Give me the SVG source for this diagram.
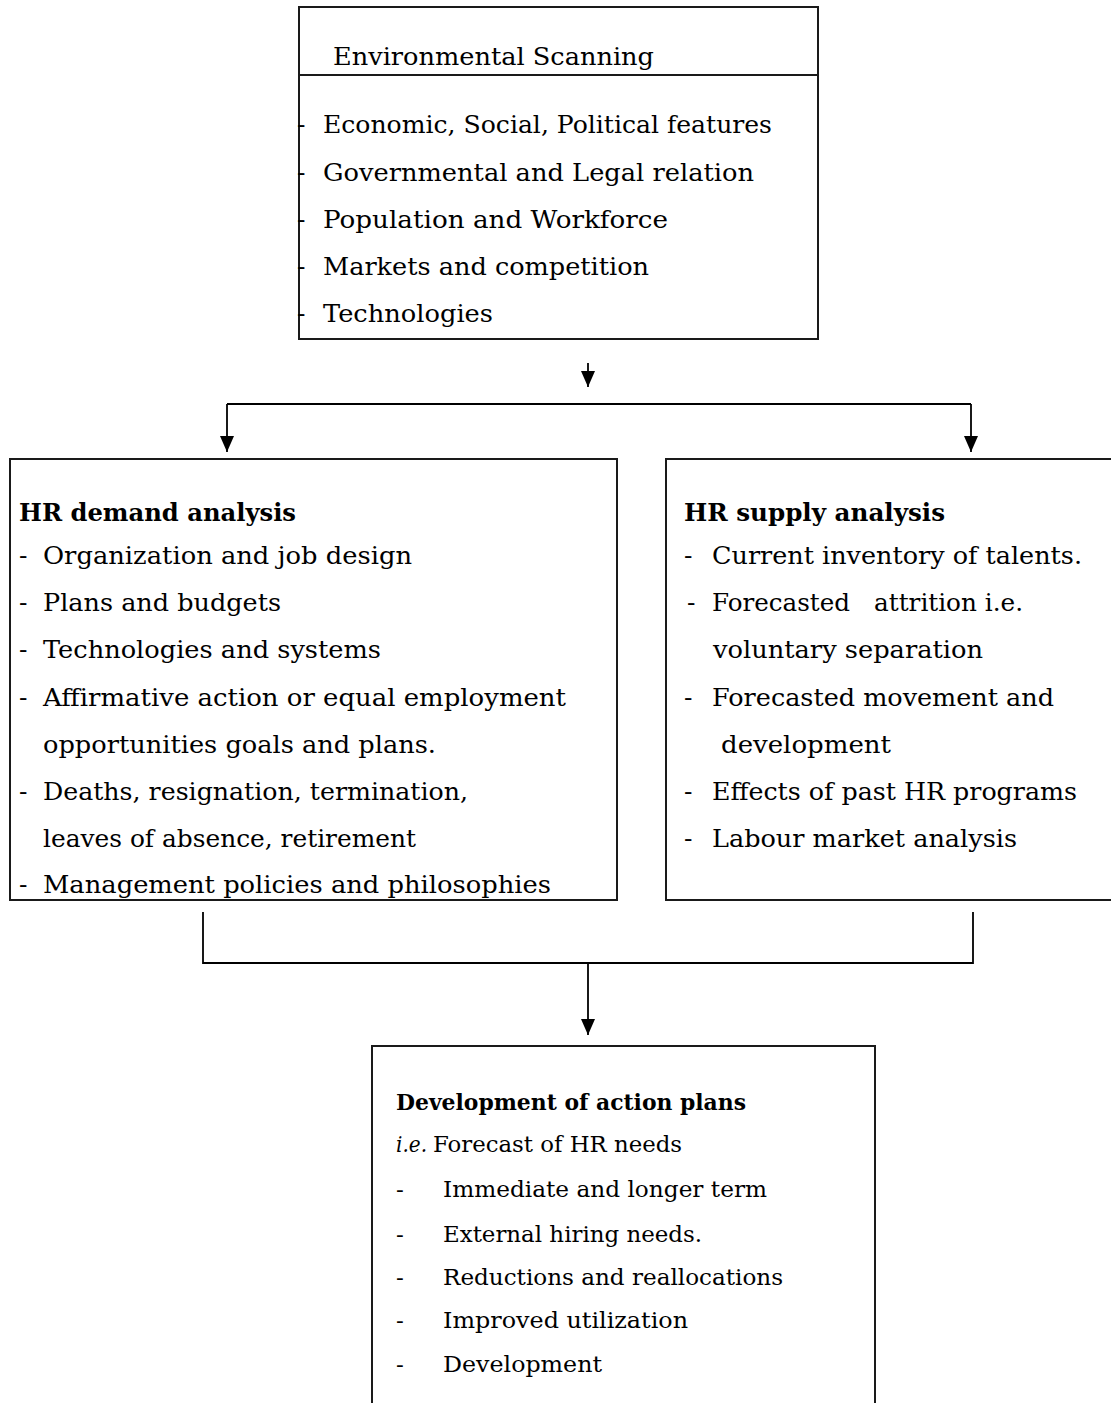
<svg xmlns="http://www.w3.org/2000/svg" width="1111" height="1403" viewBox="0 0 1111 1403">
<style>
text{font-family:"DejaVu Serif","Liberation Serif",serif;fill:#000}
.t{font-size:25px}
.s{font-size:23px}
.b{font-weight:bold}
.i{font-style:italic}
.box{fill:#fff;stroke:#1a1a1a;stroke-width:2}
.ln{fill:none;stroke:#000;stroke-width:1.8}
</style>
<defs>
<marker id="ah" viewBox="0 0 16 14" markerWidth="16" markerHeight="14" refX="16" refY="7" orient="auto" markerUnits="userSpaceOnUse">
<path d="M0,0 L16,7 L0,14 z" fill="#000"/>
</marker>
</defs>
<rect width="1111" height="1403" fill="#fff"/>

<g id="connectors">
<path class="ln" d="M588,363 V387" marker-end="url(#ah)"/>
<path class="ln" d="M227,404 H971" stroke-width="2.4"/>
<path class="ln" d="M227,404 V452" marker-end="url(#ah)"/>
<path class="ln" d="M971,404 V452" marker-end="url(#ah)"/>
<path class="ln" d="M203,912 V963 H973 V912"/>
<path class="ln" d="M588,963 V1035" marker-end="url(#ah)"/>
</g>

<g id="env-scanning">
<rect class="box" x="299" y="7" width="519" height="332"/>
<line x1="299" y1="75" x2="818" y2="75" stroke="#1a1a1a" stroke-width="2"/>
<text class="t" x="333" y="65" textLength="321" lengthAdjust="spacingAndGlyphs">Environmental Scanning</text>
<text class="t" x="297" y="133">-</text>
<text class="t" x="323" y="133" textLength="449" lengthAdjust="spacingAndGlyphs">Economic, Social, Political features</text>
<text class="t" x="297" y="181">-</text>
<text class="t" x="323" y="181" textLength="431" lengthAdjust="spacingAndGlyphs">Governmental and Legal relation</text>
<text class="t" x="297" y="228">-</text>
<text class="t" x="323" y="228" textLength="345" lengthAdjust="spacingAndGlyphs">Population and Workforce</text>
<text class="t" x="297" y="275">-</text>
<text class="t" x="323" y="275" textLength="326" lengthAdjust="spacingAndGlyphs">Markets and competition</text>
<text class="t" x="297" y="322">-</text>
<text class="t" x="323" y="322" textLength="170" lengthAdjust="spacingAndGlyphs">Technologies</text>
</g>

<g id="hr-demand">
<rect class="box" x="10" y="459" width="607" height="441"/>
<text class="t b" x="19" y="521" textLength="277" lengthAdjust="spacingAndGlyphs">HR demand analysis</text>
<text class="t" x="19" y="564">-</text>
<text class="t" x="43" y="564" textLength="369" lengthAdjust="spacingAndGlyphs">Organization and job design</text>
<text class="t" x="19" y="611">-</text>
<text class="t" x="43" y="611" textLength="238" lengthAdjust="spacingAndGlyphs">Plans and budgets</text>
<text class="t" x="19" y="658">-</text>
<text class="t" x="43" y="658" textLength="338" lengthAdjust="spacingAndGlyphs">Technologies and systems</text>
<text class="t" x="19" y="706">-</text>
<text class="t" x="43" y="706" textLength="523" lengthAdjust="spacingAndGlyphs">Affirmative action or equal employment</text>
<text class="t" x="43" y="753" textLength="393" lengthAdjust="spacingAndGlyphs">opportunities goals and plans.</text>
<text class="t" x="19" y="800">-</text>
<text class="t" x="43" y="800" textLength="425" lengthAdjust="spacingAndGlyphs">Deaths, resignation, termination,</text>
<text class="t" x="43" y="847" textLength="373" lengthAdjust="spacingAndGlyphs">leaves of absence, retirement</text>
<text class="t" x="19" y="893">-</text>
<text class="t" x="43" y="893" textLength="508" lengthAdjust="spacingAndGlyphs">Management policies and philosophies</text>
</g>

<g id="hr-supply">
<rect class="box" x="666" y="459" width="447" height="441"/>
<text class="t b" x="684" y="521" textLength="261" lengthAdjust="spacingAndGlyphs">HR supply analysis</text>
<text class="t" x="684" y="564">-</text>
<text class="t" x="712" y="564" textLength="370" lengthAdjust="spacingAndGlyphs">Current inventory of talents.</text>
<text class="t" x="687" y="611">-</text>
<text class="t" x="712" y="611" textLength="138" lengthAdjust="spacingAndGlyphs">Forecasted</text>
<text class="t" x="874" y="611" textLength="149" lengthAdjust="spacingAndGlyphs">attrition i.e.</text>
<text class="t" x="713" y="658" textLength="270" lengthAdjust="spacingAndGlyphs">voluntary separation</text>
<text class="t" x="684" y="706">-</text>
<text class="t" x="712" y="706" textLength="342" lengthAdjust="spacingAndGlyphs">Forecasted movement and</text>
<text class="t" x="721" y="753" textLength="170" lengthAdjust="spacingAndGlyphs">development</text>
<text class="t" x="684" y="800">-</text>
<text class="t" x="712" y="800" textLength="365" lengthAdjust="spacingAndGlyphs">Effects of past HR programs</text>
<text class="t" x="684" y="847">-</text>
<text class="t" x="712" y="847" textLength="305" lengthAdjust="spacingAndGlyphs">Labour market analysis</text>
</g>

<g id="action-plans">
<rect class="box" x="372" y="1046" width="503" height="370"/>
<text class="s b" x="396" y="1110" textLength="350" lengthAdjust="spacingAndGlyphs">Development of action plans</text>
<text class="s i" x="396" y="1152" textLength="31" lengthAdjust="spacingAndGlyphs">i.e.</text>
<text class="s" x="433" y="1152" textLength="249" lengthAdjust="spacingAndGlyphs">Forecast of HR needs</text>
<text class="s" x="396" y="1197">-</text>
<text class="s" x="443" y="1197" textLength="324" lengthAdjust="spacingAndGlyphs">Immediate and longer term</text>
<text class="s" x="396" y="1242">-</text>
<text class="s" x="443" y="1242" textLength="259" lengthAdjust="spacingAndGlyphs">External hiring needs.</text>
<text class="s" x="396" y="1285">-</text>
<text class="s" x="443" y="1285" textLength="340" lengthAdjust="spacingAndGlyphs">Reductions and reallocations</text>
<text class="s" x="396" y="1328">-</text>
<text class="s" x="443" y="1328" textLength="245" lengthAdjust="spacingAndGlyphs">Improved utilization</text>
<text class="s" x="396" y="1372">-</text>
<text class="s" x="443" y="1372" textLength="159" lengthAdjust="spacingAndGlyphs">Development</text>
</g>
</svg>
